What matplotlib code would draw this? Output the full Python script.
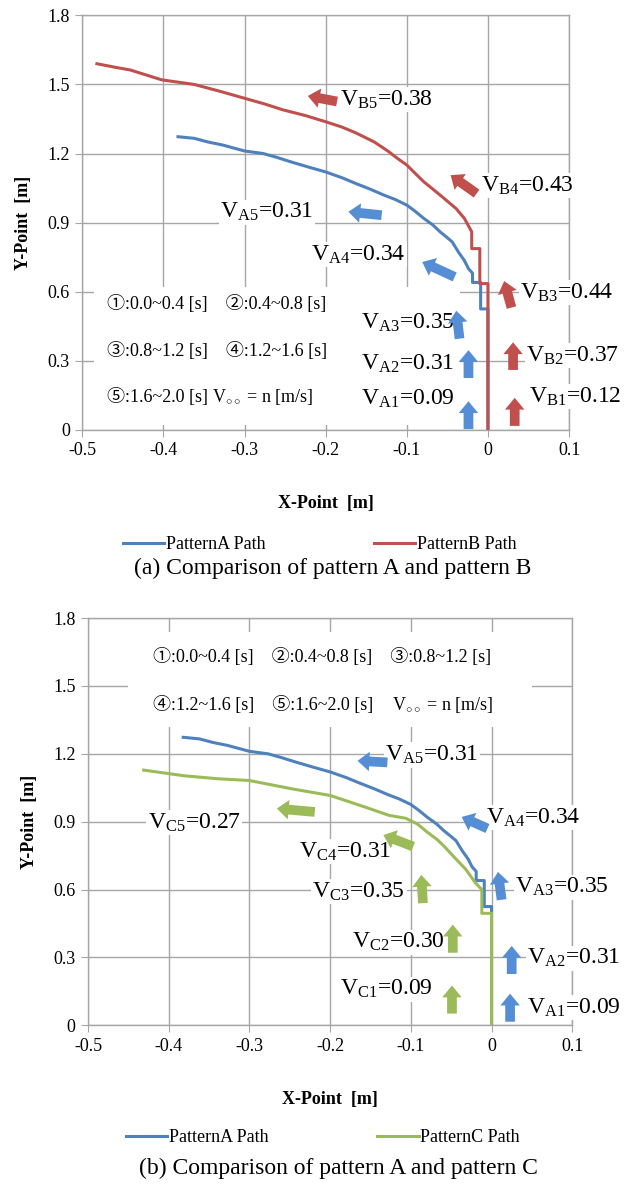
import numpy as np
import matplotlib
matplotlib.use('Agg')
import matplotlib.pyplot as plt
from matplotlib.ticker import FormatStrFormatter

plt.rcParams['font.family'] = ['Liberation Serif', 'Noto Sans CJK JP', 'DejaVu Sans']
plt.rcParams['mathtext.fontset'] = 'custom'
plt.rcParams['mathtext.rm'] = 'Liberation Serif'
plt.rcParams['mathtext.it'] = 'Liberation Serif:italic'
plt.rcParams['axes.unicode_minus'] = False

# path data (from the start point at the origin)
pattern_a_x = [0, 0, -0.009, -0.009, -0.019, -0.019, -0.024, -0.029, -0.036, -0.044, -0.052, -0.059, -0.068,
               -0.079, -0.09, -0.1, -0.114, -0.128, -0.145, -0.163, -0.18, -0.2, -0.22, -0.243, -0.26,
               -0.277, -0.3, -0.327, -0.345, -0.362, -0.382]
pattern_a_y = [0, 0.525, 0.525, 0.64, 0.64, 0.68, 0.70, 0.735, 0.77, 0.816, 0.84, 0.86, 0.89,
               0.918, 0.95, 0.976, 1.0, 1.019, 1.045, 1.07, 1.095, 1.12, 1.14, 1.164, 1.183,
               1.2, 1.211, 1.237, 1.25, 1.266, 1.273]

pattern_b_x = [0, 0, -0.01, -0.01, -0.02, -0.02, -0.029, -0.039, -0.054, -0.066, -0.079, -0.09,
               -0.1, -0.112, -0.123, -0.14, -0.163, -0.18, -0.2, -0.225, -0.253, -0.275, -0.3,
               -0.33, -0.362, -0.402, -0.441, -0.46, -0.482]
pattern_b_y = [0, 0.635, 0.635, 0.787, 0.787, 0.86, 0.918, 0.96, 1.005, 1.04, 1.077, 1.115,
               1.15, 1.18, 1.21, 1.25, 1.29, 1.315, 1.338, 1.365, 1.39, 1.415, 1.44,
               1.47, 1.50, 1.52, 1.563, 1.575, 1.59]

pattern_c_x = [0, 0, -0.012, -0.012, -0.02, -0.026, -0.032, -0.04, -0.047, -0.057, -0.067, -0.08,
               -0.092, -0.106, -0.127, -0.157, -0.2, -0.247, -0.3, -0.34, -0.381, -0.431]
pattern_c_y = [0, 0.495, 0.495, 0.60, 0.63, 0.66, 0.69, 0.72, 0.746, 0.785, 0.82, 0.855,
               0.89, 0.915, 0.928, 0.965, 1.016, 1.045, 1.082, 1.09, 1.103, 1.128]

# velocity labels: text, x, y
labels_ab = [(r'V$_{\rm B5}$=0.38', -0.182, 1.435), (r'V$_{\rm B4}$=0.43', -0.008, 1.06),
             (r'V$_{\rm A5}$=0.31', -0.33, 0.945), (r'V$_{\rm A4}$=0.34', -0.218, 0.76),
             (r'V$_{\rm B3}$=0.44', 0.040, 0.595), (r'V$_{\rm A3}$=0.35', -0.157, 0.465),
             (r'V$_{\rm A2}$=0.31', -0.157, 0.285), (r'V$_{\rm A1}$=0.09', -0.157, 0.135),
             (r'V$_{\rm B2}$=0.37', 0.047, 0.322), (r'V$_{\rm B1}$=0.12', 0.051, 0.145)]
labels_ac = [(r'V$_{\rm A5}$=0.31', -0.132, 1.195), (r'V$_{\rm C5}$=0.27', -0.426, 0.895),
             (r'V$_{\rm A4}$=0.34', -0.007, 0.918), (r'V$_{\rm C4}$=0.31', -0.238, 0.768),
             (r'V$_{\rm C3}$=0.35', -0.222, 0.592), (r'V$_{\rm A3}$=0.35', 0.029, 0.61),
             (r'V$_{\rm C2}$=0.30', -0.173, 0.368), (r'V$_{\rm A2}$=0.31', 0.044, 0.297),
             (r'V$_{\rm C1}$=0.09', -0.188, 0.16), (r'V$_{\rm A1}$=0.09', 0.044, 0.078)]

# velocity arrows: tail x, tail y, head x, head y, pattern
arrows_ab = [(-0.186, 1.426, -0.222, 1.45, 'B'), (-0.014, 1.026, -0.046, 1.106, 'B'),
             (-0.131, 0.932, -0.172, 0.947, 'A'), (-0.041, 0.664, -0.081, 0.729, 'A'),
             (0.029, 0.531, 0.020, 0.646, 'B'), (-0.035, 0.396, -0.039, 0.517, 'A'),
             (-0.024, 0.225, -0.024, 0.346, 'A'), (-0.024, 0.003, -0.024, 0.124, 'A'),
             (0.031, 0.26, 0.031, 0.38, 'B'), (0.033, 0.017, 0.033, 0.139, 'B')]
arrows_ac = [(-0.129, 1.162, -0.166, 1.169, 'A'), (-0.219, 0.943, -0.266, 0.958, 'C'),
             (-0.005, 0.87, -0.037, 0.921, 'A'), (-0.097, 0.79, -0.134, 0.841, 'C'),
             (-0.085, 0.54, -0.087, 0.665, 'C'), (0.0125, 0.555, 0.008, 0.678, 'A'),
             (-0.048, 0.321, -0.048, 0.445, 'C'), (0.025, 0.227, 0.025, 0.351, 'A'),
             (-0.049, 0.052, -0.049, 0.176, 'C'), (0.023, 0.016, 0.023, 0.14, 'A')]

line_colors = {'A': '#4F81BD', 'B': '#C0504D', 'C': '#9BBB59'}
arrow_colors = {'A': '#558ED5', 'B': '#C0504D', 'C': '#9BBB59'}
grid_col = '#A6A6A6'

fig = plt.figure(figsize=(6.33, 11.84), dpi=100)
ax1 = fig.add_axes([0.130, 0.637, 0.769, 0.350])
ax2 = fig.add_axes([0.139, 0.134, 0.765, 0.344])


def style_axes(ax):
    ax.set_xlim(-0.5, 0.1)
    ax.set_ylim(0, 1.8)
    ax.set_xticks(np.arange(-0.5, 0.11, 0.1))
    ax.set_yticks(np.arange(0, 1.81, 0.3))
    ax.yaxis.set_major_formatter(FormatStrFormatter('%g'))
    ax.set_xticklabels(['-0.5', '-0.4', '-0.3', '-0.2', '-0.1', '0', '0.1'])
    ax.grid(True, color=grid_col, linewidth=1.0)
    ax.set_axisbelow(True)
    for s in ax.spines.values():
        s.set_color(grid_col)
        s.set_linewidth(1.0)
    ax.tick_params(direction='out', length=5, color=grid_col, labelsize=13, pad=4)
    ax.set_xlabel('X-Point  [m]', fontsize=13, fontweight='bold', labelpad=26)
    ax.set_ylabel('Y-Point  [m]', fontsize=13, fontweight='bold', labelpad=11)


def draw_labels(ax, labels, arrows):
    for txt, x, y in labels:
        ax.text(x, y, txt, fontsize=17, ha='left', va='center', zorder=3,
                bbox=dict(fc='white', ec='none', pad=1))
    for x0, y0, x1, y1, p in arrows:
        ax.annotate('', xy=(x1, y1), xytext=(x0, y0), zorder=6,
                    arrowprops=dict(arrowstyle='simple,head_width=1.4,head_length=0.85,tail_width=0.7',
                                    fc=arrow_colors[p], ec='none', shrinkA=0, shrinkB=0,
                                    mutation_scale=10))


def unit_note(ax, before, x, y, gap):
    # circled-number text, then the velocity unit with its subscript
    t = ax.text(x, y, before, fontsize=13, va='baseline', zorder=3)
    ax.annotate(r'V$_{\circ\circ}$ = n [m/s]', xy=(1, y), xycoords=(t, 'data'),
                xytext=(gap, 0), textcoords='offset points', fontsize=13,
                ha='left', va='baseline', zorder=3)


# (a) pattern A vs pattern B
style_axes(ax1)
ax1.add_patch(plt.Rectangle((-0.485, 0.02), 0.45, 0.6, fc='white', ec='none', zorder=2))
ax1.plot(pattern_a_x, pattern_a_y, color=line_colors['A'], lw=2.2,
         label='PatternA Path', zorder=5)
ax1.plot(pattern_b_x, pattern_b_y, color=line_colors['B'], lw=2.2,
         label='PatternB Path', zorder=5)
draw_labels(ax1, labels_ab, arrows_ab)
ax1.text(-0.47, 0.524, '①:0.0~0.4 [s]    ②:0.4~0.8 [s]', fontsize=13, va='baseline', zorder=3)
ax1.text(-0.47, 0.319, '③:0.8~1.2 [s]    ④:1.2~1.6 [s]', fontsize=13, va='baseline', zorder=3)
unit_note(ax1, '⑤:1.6~2.0 [s]', -0.47, 0.119, 3.5)
ax1.legend(loc='center', bbox_to_anchor=(0.505, 0.540), bbox_transform=fig.transFigure, ncol=2,
           frameon=False, fontsize=13, handlelength=2.3, handletextpad=0.1, columnspacing=6.0)
fig.text(0.526, 0.520, '(a) Comparison of pattern A and pattern B', ha='center', va='center', fontsize=17)

# (b) pattern A vs pattern C
style_axes(ax2)
ax2.add_patch(plt.Rectangle((-0.45, 1.32), 0.5, 0.42, fc='white', ec='none', zorder=2))
ax2.plot(pattern_a_x, pattern_a_y, color=line_colors['A'], lw=2.2,
         label='PatternA Path', zorder=5)
ax2.plot(pattern_c_x, pattern_c_y, color=line_colors['C'], lw=2.2,
         label='PatternC Path', zorder=5)
draw_labels(ax2, labels_ac, arrows_ac)
ax2.text(-0.42, 1.604, '①:0.0~0.4 [s]    ②:0.4~0.8 [s]    ③:0.8~1.2 [s]', fontsize=13,
         va='baseline', zorder=3)
unit_note(ax2, '④:1.2~1.6 [s]    ⑤:1.6~2.0 [s]', -0.42, 1.394, 14)
ax2.legend(loc='center', bbox_to_anchor=(0.51, 0.039), bbox_transform=fig.transFigure, ncol=2,
           frameon=False, fontsize=13, handlelength=2.3, handletextpad=0.1, columnspacing=6.0)
fig.text(0.535, 0.013, '(b) Comparison of pattern A and pattern C', ha='center', va='center', fontsize=17)

fig.savefig('out.png', dpi=100, facecolor='white')
